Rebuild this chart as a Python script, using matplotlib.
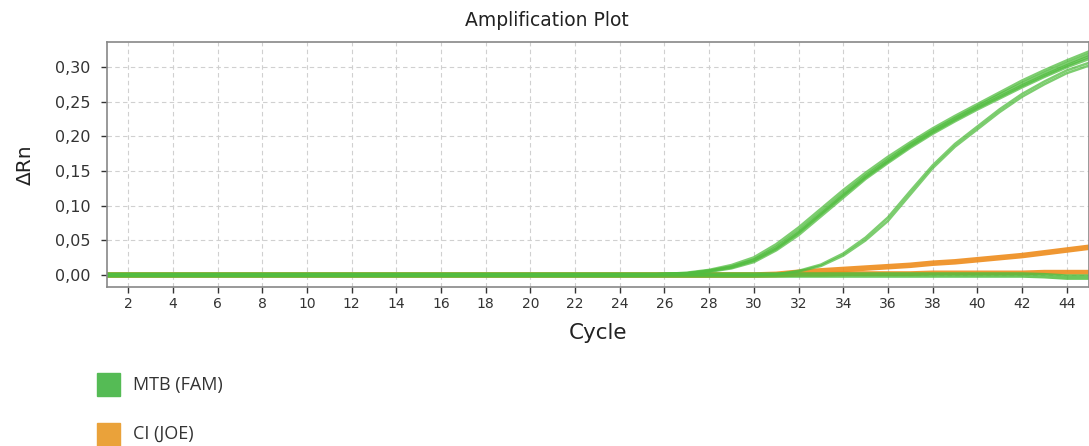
import matplotlib.pyplot as plt
from matplotlib.patches import Rectangle

cycles = list(range(1, 46))

# FAM curves (early group), cycles 1..45
mtb_a = [0.000, 0.000, 0.000, 0.000, 0.000, 0.000, 0.000, 0.000, 0.000, 0.000,
         0.000, 0.000, 0.000, 0.000, 0.000, 0.000, 0.000, 0.000, 0.000, 0.000,
         0.000, 0.000, 0.000, 0.000, 0.000, 0.001, 0.002, 0.006, 0.012, 0.022,
         0.040, 0.063, 0.090, 0.117, 0.143, 0.166, 0.188, 0.208, 0.226, 0.243,
         0.260, 0.276, 0.291, 0.305, 0.318]
mtb_b = [0.000, 0.000, 0.000, 0.000, 0.000, 0.000, 0.000, 0.000, 0.000, 0.000,
         0.000, 0.000, 0.000, 0.000, 0.000, 0.000, 0.000, 0.000, 0.000, 0.000,
         0.000, 0.000, 0.000, 0.000, 0.000, 0.001, 0.002, 0.005, 0.010, 0.019,
         0.036, 0.058, 0.085, 0.112, 0.139, 0.162, 0.184, 0.204, 0.222, 0.239,
         0.255, 0.271, 0.286, 0.300, 0.312]
mtb_c = [0.000, 0.000, 0.000, 0.000, 0.000, 0.000, 0.000, 0.000, 0.000, 0.000,
         0.000, 0.000, 0.000, 0.000, 0.000, 0.000, 0.000, 0.000, 0.000, 0.000,
         0.000, 0.000, 0.000, 0.000, 0.000, 0.001, 0.003, 0.007, 0.014, 0.025,
         0.044, 0.068, 0.095, 0.122, 0.147, 0.170, 0.191, 0.211, 0.229, 0.246,
         0.263, 0.280, 0.295, 0.309, 0.322]
mtb_d = [0.000, 0.000, 0.000, 0.000, 0.000, 0.000, 0.000, 0.000, 0.000, 0.000,
         0.000, 0.000, 0.000, 0.000, 0.000, 0.000, 0.000, 0.000, 0.000, 0.000,
         0.000, 0.000, 0.000, 0.000, 0.000, 0.001, 0.002, 0.006, 0.011, 0.021,
         0.038, 0.061, 0.088, 0.115, 0.141, 0.164, 0.186, 0.206, 0.224, 0.241,
         0.257, 0.273, 0.288, 0.302, 0.315]
# FAM curves (late group)
mtb_e = [0.000, 0.000, 0.000, 0.000, 0.000, 0.000, 0.000, 0.000, 0.000, 0.000,
         0.000, 0.000, 0.000, 0.000, 0.000, 0.000, 0.000, 0.000, 0.000, 0.000,
         0.000, 0.000, 0.000, 0.000, 0.000, 0.000, 0.000, 0.000, 0.000, 0.000,
         0.001, 0.005, 0.013, 0.028, 0.050, 0.078, 0.116, 0.154, 0.185, 0.210,
         0.235, 0.257, 0.275, 0.291, 0.302]
mtb_f = [0.000, 0.000, 0.000, 0.000, 0.000, 0.000, 0.000, 0.000, 0.000, 0.000,
         0.000, 0.000, 0.000, 0.000, 0.000, 0.000, 0.000, 0.000, 0.000, 0.000,
         0.000, 0.000, 0.000, 0.000, 0.000, 0.000, 0.000, 0.000, 0.000, 0.000,
         0.001, 0.006, 0.015, 0.031, 0.054, 0.083, 0.121, 0.158, 0.189, 0.214,
         0.239, 0.261, 0.279, 0.295, 0.306]
# FAM negatives (flat)
mtb_neg = [0.000, 0.000, 0.000, 0.000, 0.000, 0.000, 0.000, 0.000, 0.000, 0.000,
           0.000, 0.000, 0.000, 0.000, 0.000, 0.000, 0.000, 0.000, 0.000, 0.000,
           0.000, 0.000, 0.000, 0.000, 0.000, 0.000, 0.000, 0.000, 0.000, 0.000,
           0.000, 0.000, 0.000, 0.000, 0.000, 0.000, 0.000, 0.000, 0.000, 0.000,
           0.000, 0.000, -0.001, -0.003, -0.003]
# JOE internal control
ci_a = [0.000, 0.000, 0.000, 0.000, 0.000, 0.000, 0.000, 0.000, 0.000, 0.000,
        0.000, 0.000, 0.000, 0.000, 0.000, 0.000, 0.000, 0.000, 0.000, 0.000,
        0.000, 0.000, 0.000, 0.000, 0.000, 0.000, 0.000, 0.000, 0.000, 0.000,
        0.001, 0.004, 0.006, 0.008, 0.010, 0.012, 0.014, 0.017, 0.019, 0.022,
        0.025, 0.028, 0.032, 0.036, 0.040]
ci_b = [0.000, 0.000, 0.000, 0.000, 0.000, 0.000, 0.000, 0.000, 0.000, 0.000,
        0.000, 0.000, 0.000, 0.000, 0.000, 0.000, 0.000, 0.000, 0.000, 0.000,
        0.000, 0.000, 0.000, 0.000, 0.000, 0.000, 0.000, 0.000, 0.000, 0.000,
        0.000, 0.001, 0.001, 0.002, 0.002, 0.002, 0.002, 0.003, 0.003, 0.003,
        0.003, 0.003, 0.004, 0.004, 0.004]

green = '#52bd40'
orange = '#ee8c1c'

fig = plt.figure(figsize=(10.89, 4.46), dpi=100)
ax = fig.add_axes([0.0983, 0.3565, 0.9017, 0.5493])

ax.plot(cycles, ci_b, color=orange, lw=3.5, alpha=0.9)
ax.plot(cycles, ci_a, color=orange, lw=4, alpha=0.9)
ax.plot(cycles, mtb_neg, color=green, lw=4, alpha=0.85)
for ys in [mtb_a, mtb_b, mtb_c, mtb_d]:
    ax.plot(cycles, ys, color=green, lw=2.2, alpha=0.75)
for ys in [mtb_e, mtb_f]:
    ax.plot(cycles, ys, color=green, lw=1.8, alpha=0.75)

ax.set_xlim(1.05, 45)
ax.set_ylim(-0.0173, 0.336)
ax.set_xticks(range(2, 45, 2))
ax.set_yticks([0, 0.05, 0.10, 0.15, 0.20, 0.25, 0.30])
ax.set_yticklabels(['0,00', '0,05', '0,10', '0,15', '0,20', '0,25', '0,30'])
ax.tick_params(labelsize=11.5, colors='#333333', length=4, width=1)
ax.tick_params(axis='y', pad=8)
ax.tick_params(axis='x', labelsize=10)
ax.grid(True, ls=(0, (4, 3)), color='#d0d0d0', lw=0.8)
for s in ax.spines.values():
    s.set_color('#888888')
    s.set_linewidth(1.2)

ax.set_xlabel('Cycle', fontsize=15.5, color='#222222', labelpad=8)
ax.set_ylabel('ΔRn', fontsize=14.5, color='#222222', labelpad=14)
fig.text(0.502, 0.953, 'Amplification Plot', ha='center', va='center',
         fontsize=13.5, color='#222222')

# legend
fig.add_artist(Rectangle((97/1089, 1 - 396/446), 23/1089, 23/446,
                         transform=fig.transFigure, color='#55bb55'))
fig.add_artist(Rectangle((97/1089, 1 - 446/446), 23/1089, 23/446,
                         transform=fig.transFigure, color='#eaa23a'))
fig.text(133/1089, 1 - 385/446, 'MTB (FAM)', fontsize=13, family='Open Sans',
         color='#333333', va='center')
fig.text(133/1089, 1 - 434/446, 'CI (JOE)', fontsize=13, family='Open Sans',
         color='#333333', va='center')

fig.savefig('out.png', dpi=100)
